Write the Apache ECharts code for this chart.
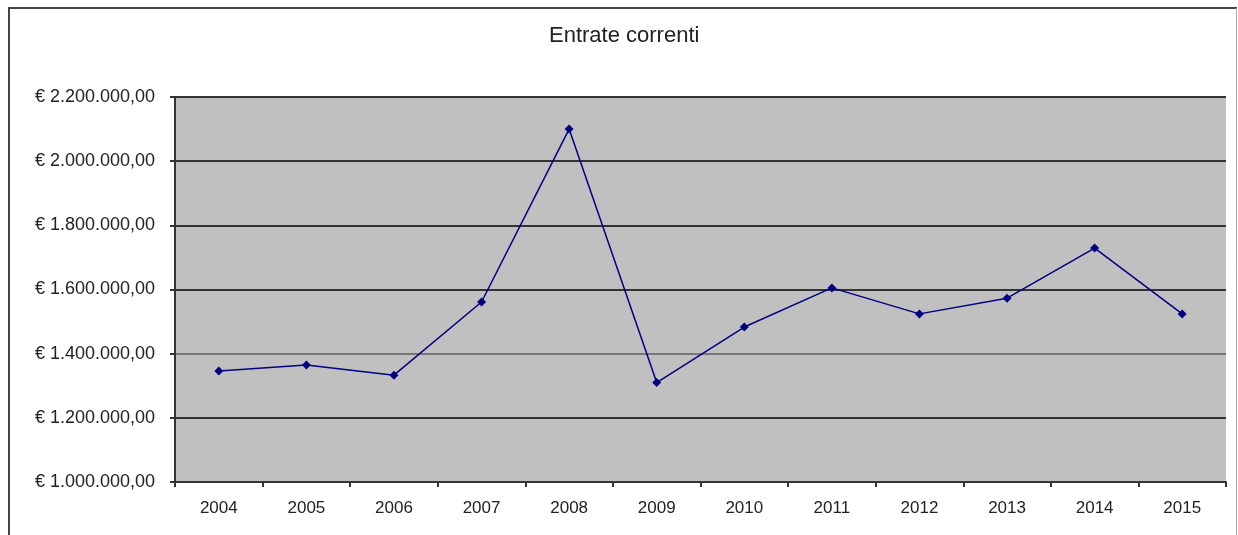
<!DOCTYPE html>
<html>
<head>
<meta charset="utf-8">
<script src="https://cdn.jsdelivr.net/npm/echarts@6/dist/echarts.min.js"></script>
<style>
  html, body { margin: 0; padding: 0; background: #fff; }
  #chart { width: 1238px; height: 535px; }
</style>
</head>
<body>
<div id="chart"></div>
<script>
const years = ['2004', '2005', '2006', '2007', '2008', '2009', '2010', '2011', '2012', '2013', '2014', '2015'];
const entrate = [1346000, 1365000, 1333000, 1561000, 2100000, 1310000, 1483000, 1605000, 1524000, 1573000, 1729000, 1524000];
const yMin = 1000000;
const yMax = 2200000;
const yStep = 200000;

function euro(v) {
    let s = String(Math.round(v)).replace(/\B(?=(\d{3})+(?!\d))/g, '.');
    return '€ ' + s + ',00';
}

const chart = echarts.init(document.getElementById('chart'));

const option = {
    backgroundColor: '#ffffff',
    animation: false,
    title: {
        text: 'Entrate correnti',
        left: 549,
        top: 25,
        padding: 0,
        textStyle: {
            fontFamily: 'Liberation Sans',
            fontSize: 22,
            fontWeight: 'normal',
            color: '#222'
        }
    },
    graphic: [
        { type: 'line', shape: { x1: 8, y1: 8, x2: 1237, y2: 8 }, style: { stroke: '#444', lineWidth: 2 } },
        { type: 'line', shape: { x1: 9, y1: 8, x2: 9, y2: 535 }, style: { stroke: '#444', lineWidth: 2 } },
        { type: 'line', shape: { x1: 1236.5, y1: 8, x2: 1236.5, y2: 535 }, style: { stroke: '#aaa', lineWidth: 1 } }
    ],
    grid: {
        left: 175,
        right: 12,
        top: 97,
        bottom: 53,
        show: true,
        backgroundColor: '#c0c0c0',
        borderWidth: 0
    },
    xAxis: {
        type: 'category',
        data: years,
        boundaryGap: true,
        axisLine: { lineStyle: { color: '#333', width: 2 } },
        axisTick: { show: true, length: 5, alignWithLabel: false, lineStyle: { color: '#333', width: 2 } },
        axisLabel: {
            margin: 18,
            fontFamily: 'Liberation Sans',
            fontSize: 17,
            color: '#222'
        },
        splitLine: { show: false }
    },
    yAxis: {
        type: 'value',
        min: yMin,
        max: yMax,
        interval: yStep,
        axisLine: { show: true, lineStyle: { color: '#333', width: 2 } },
        axisTick: { show: true, length: 5, lineStyle: { color: '#333', width: 2 } },
        axisLabel: {
            margin: 20,
            formatter: euro,
            fontFamily: 'Liberation Sans',
            fontSize: 18,
            color: '#222'
        },
        splitLine: {
            show: true,
            lineStyle: {
                color: ['#333', '#333', '#777', '#333', '#333', '#333', '#333'],
                width: 2
            }
        }
    },
    series: [
        {
            name: 'Entrate correnti',
            type: 'line',
            data: entrate,
            symbol: 'diamond',
            symbolSize: 9,
            lineStyle: { color: '#000080', width: 1.5 },
            itemStyle: { color: '#000080' }
        }
    ]
};

chart.setOption(option);
</script>
</body>
</html>
